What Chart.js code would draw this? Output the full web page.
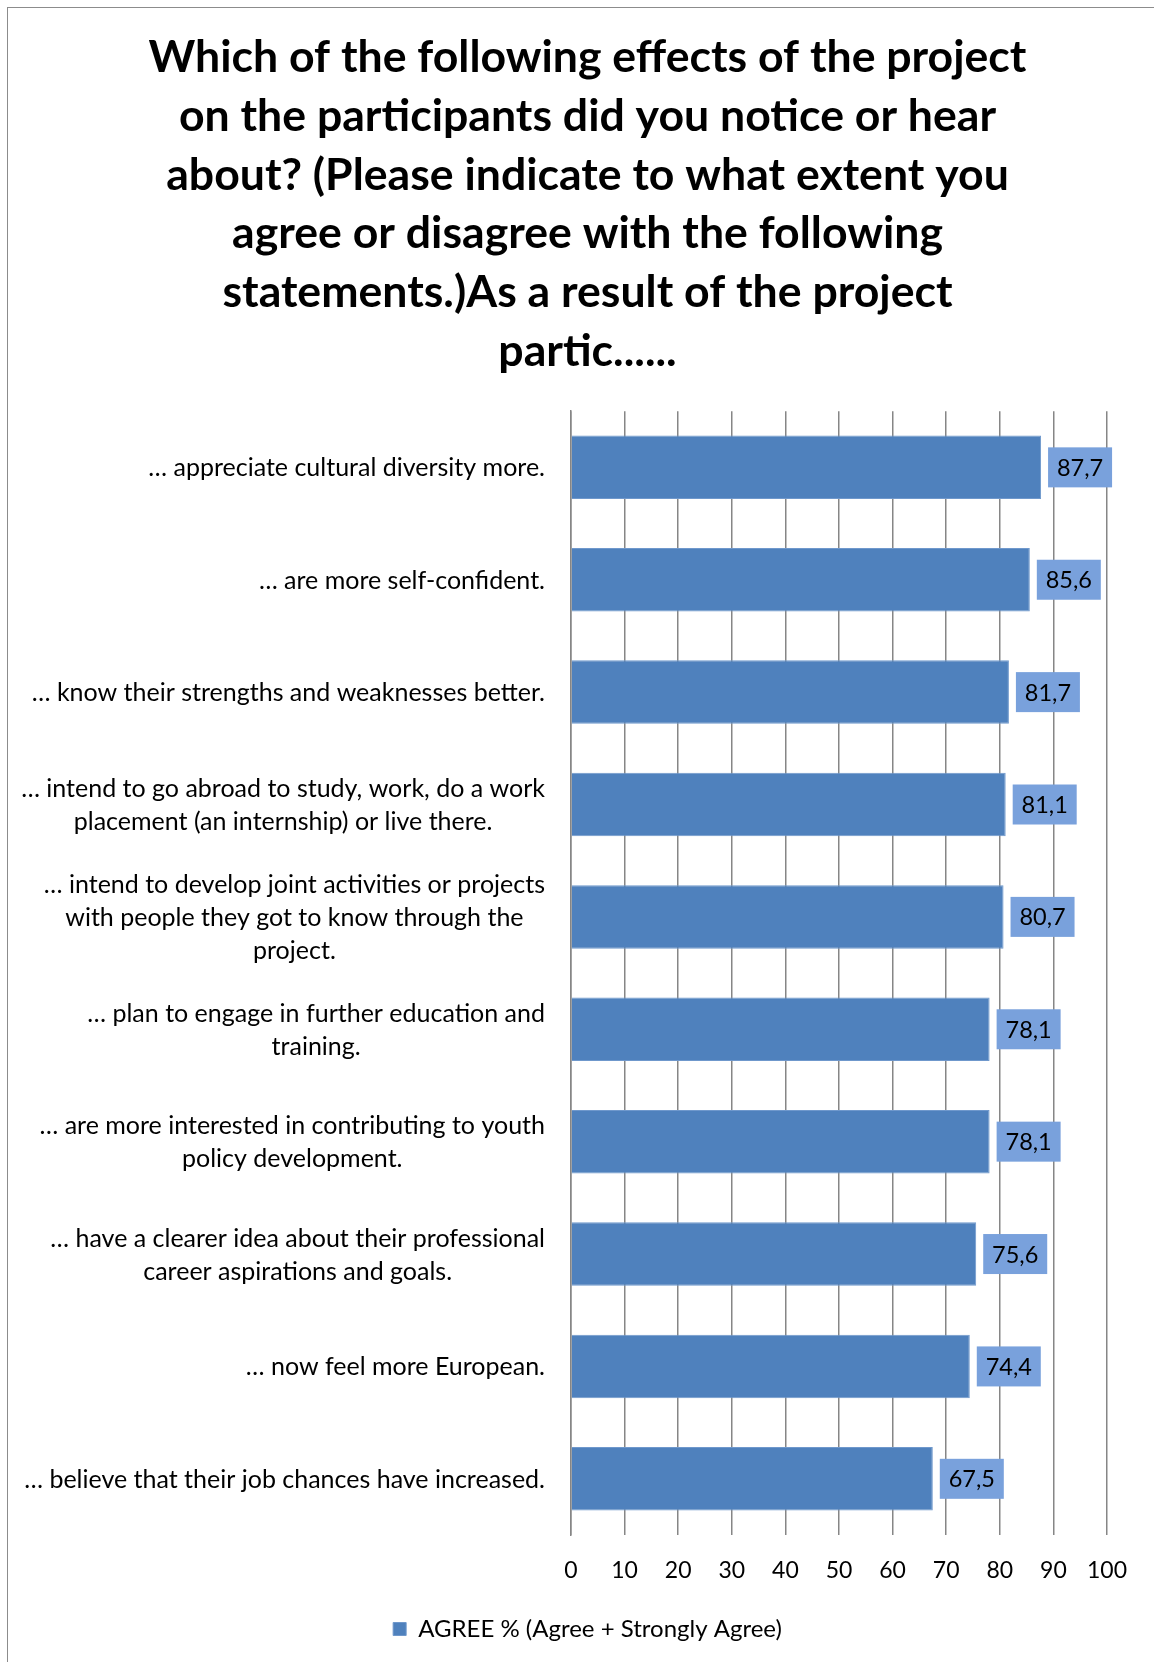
<!DOCTYPE html>
<html>
<head>
<meta charset="utf-8">
<title>Effects of the project on the participants</title>
<script src="https://cdn.jsdelivr.net/npm/chart.js@4.4.1/dist/chart.umd.min.js"></script>
<style>
  html, body { margin: 0; padding: 0; background: #fff; overflow: hidden; }
  #wrap { position: relative; width: 1154px; height: 1662px; }
  #frame { position: absolute; left: 7px; top: 7px; right: 0; bottom: 0;
           border-left: 1px solid #8c8c8c; border-top: 1px solid #8c8c8c; pointer-events: none; }
</style>
</head>
<body>
<div id="wrap">
  <canvas id="effectsChart" width="1154" height="1662"></canvas>
  <div id="frame"></div>
</div>
<script>
//=============================== Data ===============================

const titleLines = [
  'Which of the following effects of the project',
  'on the participants did you notice or hear',
  'about? (Please indicate to what extent you',
  'agree or disagree with the following',
  'statements.)As a result of the project',
  'partic......'
];

const statements = [
  '\u2026 appreciate cultural diversity more.',
  '\u2026 are more self-confident.',
  '\u2026 know their strengths and weaknesses better.',
  ['\u2026 intend to go abroad to study, work, do a work', 'placement (an internship) or live there.'],
  ['\u2026 intend to develop joint activities or projects', 'with people they got to know through the', 'project.'],
  ['\u2026 plan to engage in further education and', 'training.'],
  ['\u2026 are more interested in contributing to youth', 'policy development.'],
  ['\u2026 have a clearer idea about their professional', 'career aspirations and goals.'],
  '\u2026 now feel more European.',
  '\u2026 believe that their job chances have increased.'
];

const agreePercent = [87.7, 85.6, 81.7, 81.1, 80.7, 78.1, 78.1, 75.6, 74.4, 67.5];

const axisTicks = [0, 10, 20, 30, 40, 50, 60, 70, 80, 90, 100];

const seriesName = 'AGREE % (Agree + Strongly Agree)';

//=============================== Plugins ============================

// category labels: each block right aligned, lines centred inside the block
const categoryLabels = {
  id: 'categoryLabels',
  afterDraw(chart) {
    const yScale = chart.scales.y;
    const ctx = chart.ctx;
    const right = yScale.right - 26;
    const lineH = 32.8;
    ctx.save();
    ctx.font = '25px Lato';
    ctx.fillStyle = '#000';
    ctx.textAlign = 'center';
    ctx.textBaseline = 'middle';
    chart.data.labels.forEach((lbl, i) => {
      const lines = Array.isArray(lbl) ? lbl : [lbl];
      const blockW = Math.max(...lines.map(l => ctx.measureText(l).width));
      const cx = right - blockW / 2;
      const y0 = yScale.getPixelForValue(i) + 1 - (lines.length - 1) * lineH / 2;
      lines.forEach((l, k) => ctx.fillText(l, cx, y0 + k * lineH));
    });
    ctx.restore();
  }
};

// value boxes just past the end of every bar
const valueBoxes = {
  id: 'valueBoxes',
  afterDatasetsDraw(chart) {
    const ctx = chart.ctx;
    const meta = chart.getDatasetMeta(0);
    const w = 64, h = 40;
    ctx.save();
    ctx.font = '23.5px Lato';
    ctx.textAlign = 'center';
    ctx.textBaseline = 'middle';
    meta.data.forEach((bar, i) => {
      const text = chart.data.datasets[0].data[i].toFixed(1).replace('.', ',');
      const x = bar.x + 7;
      ctx.fillStyle = '#79a1dc';
      ctx.fillRect(x, bar.y - h / 2, w, h);
      ctx.fillStyle = '#000';
      ctx.fillText(text, x + w / 2, bar.y + 1);
    });
    ctx.restore();
  }
};

//=============================== Chart ==============================

const ctx = document.getElementById('effectsChart');

new Chart(ctx, {
  type: 'bar',
  data: {
    labels: statements,
    datasets: [{
      label: seriesName,
      data: agreePercent,
      backgroundColor: '#4f81bd',
      borderColor: '#6f98cc',
      borderWidth: 1,
      barPercentage: 0.565,
      categoryPercentage: 1
    }]
  },
  options: {
    indexAxis: 'y',
    responsive: false,
    animation: false,
    layout: { padding: { top: 0, right: 47, bottom: 11, left: 68 } },
    plugins: {
      title: {
        display: true,
        text: titleLines,
        color: '#000',
        font: { family: 'Lato', size: 44.6, weight: 'bold', lineHeight: 1.316 },
        padding: { top: 28.5, bottom: 30.5 }
      },
      legend: {
        position: 'bottom',
        labels: {
          boxWidth: 13,
          boxHeight: 13,
          color: '#000',
          padding: 10,
          font: { family: 'Lato', size: 24 }
        }
      },
      tooltip: { enabled: false }
    },
    scales: {
      x: {
        min: axisTicks[0],
        max: axisTicks[axisTicks.length - 1],
        ticks: {
          stepSize: axisTicks[1] - axisTicks[0],
          color: '#000',
          padding: 22,
          font: { family: 'Lato', size: 23 }
        },
        grid: { color: '#868686', lineWidth: 1.5, drawTicks: false },
        border: { display: false },
        afterFit: s => { s.height = 72; }
      },
      y: {
        ticks: { display: false },
        grid: { display: false, drawTicks: false },
        border: { display: true, color: '#868686', width: 1.5 },
        // plot area starts at x = 571 (68 padding + 503 axis)
        afterFit: s => { s.width = 503; }
      }
    }
  },
  plugins: [categoryLabels, valueBoxes]
});
</script>
</body>
</html>
